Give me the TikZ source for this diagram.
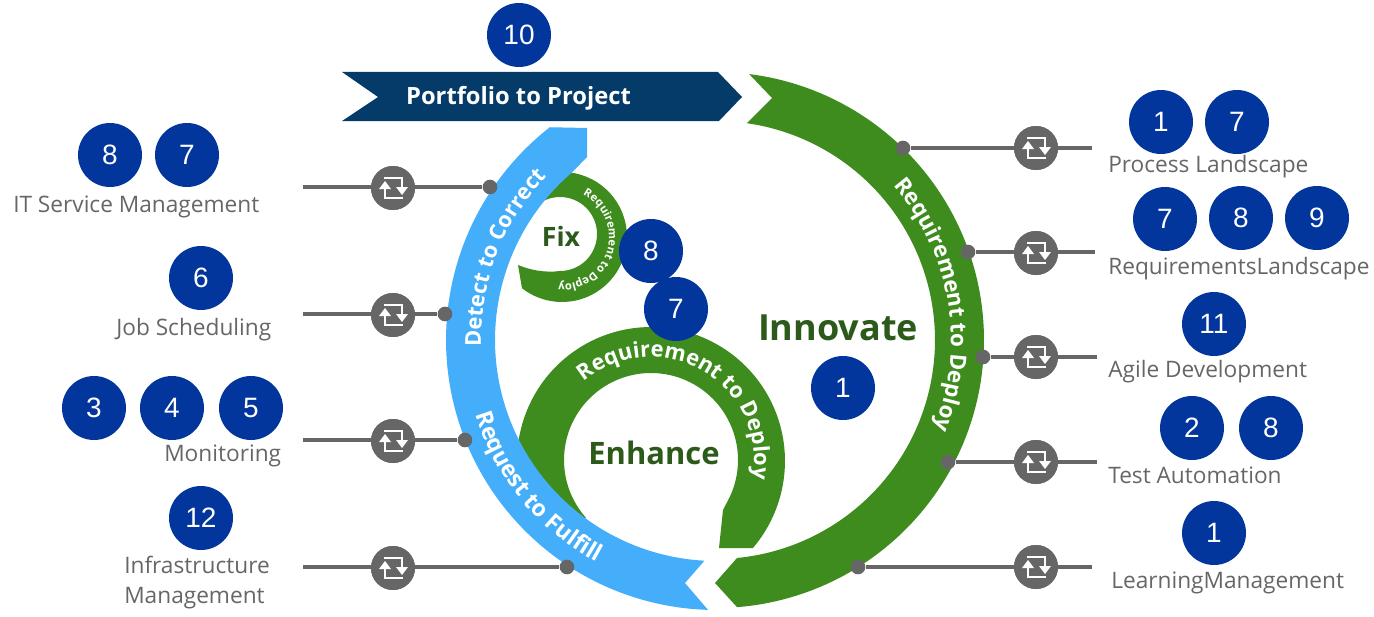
\documentclass[tikz,border=0pt]{standalone}
\usepackage{fontspec}
\setmainfont{Open Sans}
\newfontfamily\numfont{Liberation Sans}
\usetikzlibrary{decorations.text}
\definecolor{gr}{HTML}{3F8C1E}
\definecolor{bl}{HTML}{45AEFB}
\definecolor{nv}{HTML}{053B68}
\definecolor{bd}{HTML}{02369C}
\definecolor{cg}{HTML}{666666}
\definecolor{dg}{HTML}{2C5A1B}
\newcommand{\fz}[1]{\fontsize{#1}{#1}\selectfont}
\tikzset{
 x=0.75pt,y=-0.75pt,
 badge/.style={circle,fill=bd,minimum size=48pt,inner sep=0pt,text=white,font=\numfont\fz{21}},
 lab/.style={text=cg,font=\fz{17},anchor=base west,inner sep=0pt},
 head/.style={text=dg,font=\bfseries\fz{#1},inner sep=0pt},
 conn/.style={cg,line width=3pt},
 dotn/.style={circle,fill=cg,minimum size=11pt,inner sep=0pt},
 icon/.style={circle,fill=cg,minimum size=33pt,inner sep=0pt},
 bandtext/.style 2 args={decorate,decoration={text along path,text align=center,text={|\bfseries\color{white}\fz{#1}|#2}}},
}
\newcommand{\conector}[6]{% name, free x, dot x, line y, icon x, icon y
 \coordinate (#1free) at (#2,#4);
 \node[dotn] (#1dot) at (#3,#4) {};
 \node[icon] (#1icon) at (#5,#6) {};
 \draw[conn] (#1free) -- (#1dot);
 \node[icon] at (#1icon) {};
 \begin{scope}[shift={(#1icon)}]
  \draw[white,line width=2.2pt,line join=miter] (-9,-10) -- (9,-10) -- (9,0);
  \fill[white] (3,-1) -- (15,-1) -- (9,7) -- cycle;
  \draw[white,line width=2.2pt,line join=miter] (10,10) -- (-8,10) -- (-8,0);
  \fill[white] (-14,1) -- (-2,1) -- (-8,-7) -- cycle;
 \end{scope}}
\begin{document}
\begin{tikzpicture}
\useasboundingbox (0,0) rectangle (1374,617);
% Fix ring
\fill[gr] plot[domain=115:-128,samples=60] ({562+65*cos(\x)},{237-65*sin(\x)})
 -- (518,265) .. controls (530,270) and (545,273) .. (560,271)
 -- plot[domain=-90:125,samples=50] ({560+37*cos(\x)},{234-37*sin(\x)}) -- cycle;
% Enhance
\fill[gr] plot[domain=-40.5:205,samples=90] ({651+134*cos(\x)},{461-134*sin(\x)})
 -- plot[domain=222:-25,samples=90] ({651+87*cos(\x)},{460-87*sin(\x)})
 -- (723,510) -- (719,548) -- cycle;
% Blue
\fill[bl] plot[domain=128:268.3,samples=90] ({716+270*cos(\x)},{340-270*sin(\x)})
 -- (685,583)
 -- plot[domain=267:130.4,samples=90] ({716+221*cos(\x)},{340-221*sin(\x)})
 -- (587,157) -- (587,128) -- cycle;
% Big green
\fill[gr] plot[domain=82.9:-85.5,samples=120] ({716+268*cos(\x)},{340-268*sin(\x)})
 -- (715,583)
 -- plot[domain=-84.5:81.9,samples=120] ({716+219*cos(\x)},{340-219*sin(\x)})
 -- (772,98) -- cycle;
% Banner
\fill[nv] (342,72) -- (718,72) -- (742,97) -- (719,121) -- (342,121) -- (378,97) -- cycle;
\node[text=white,font=\bfseries\fz{17.8},inner sep=0pt] (pp) at (518.5,98) {Portfolio to Project};
% Curved texts
\path[bandtext={16.8}{Requirement to Deploy}] plot[domain=43:-24,samples=60] ({716+235*cos(\x)},{340-235*sin(\x)});
\path[bandtext={16.4}{Requirement to Deploy}] plot[domain=130:-10,samples=80] ({651+103*cos(\x)},{460-103*sin(\x)});
\path[bandtext={16.4}{Detect to Correct}] plot[domain=182:135.5,samples=50] ({716+235*cos(\x)},{340-235*sin(\x)});
\path[bandtext={17.4}{Request to Fulfill}] plot[domain=195.5:243.5,samples=50] ({716+252*cos(\x)},{340-252*sin(\x)});
\path[bandtext={8.4}{Requirement to Deploy}] plot[domain=72:-103,samples=60] ({562+47*cos(\x)},{237-47*sin(\x)});
% Headings
\node[head=20] (fix) at (561,236) {Fix};
\node[head=23.2] (enh) at (654,453) {Enhance};
\node[head=27] (inn) at (838,328) {Innovate};
% Connectors
\conector{a}{303}{490}{187}{393}{188}
\conector{b}{303}{445}{314}{393}{315}
\conector{c}{303}{465}{440}{393}{441}
\conector{d}{303}{567}{567}{393}{568}
\conector{e}{1092}{903}{148}{1036}{148}
\conector{f}{1095}{968}{252}{1036}{253}
\conector{g}{1097}{983}{357}{1036}{357}
\conector{h}{1097}{948}{462}{1036}{462}
\conector{i}{1092}{858}{567}{1036}{567}
% Labels
\node[lab] (l1) at (13,212) {IT Service Management};
\node[lab] (l2) at (116,335) {Job Scheduling};
\node[lab] (l3) at (164,461) {Monitoring};
\node[lab] (l4) at (124,573) {Infrastructure};
\node[lab] (l5) at (124,603) {Management};
\node[lab] (r1) at (1108,172) {Process Landscape};
\node[lab] (r2) at (1108,274) {RequirementsLandscape};
\node[lab] (r3) at (1108,377) {Agile Development};
\node[lab] (r4) at (1108,483) {Test Automation};
\node[lab] (r5) at (1111,588) {LearningManagement};
% Badges
\foreach \n/\px/\py/\t in {b1/519/35/10,b2/110/155/8,b3/187/155/7,b4/201/278/6,b5/94/408/3,b6/172/408/4,b7/251/408/5,b8/201/518/12,b9/1161/122/1,b10/1237/122/7,b11/1165/219/7,b12/1241/218/8,b13/1317/218/9,b14/1214/324/11,b15/1192/428/2,b16/1271/428/8,b17/1214/533/1,b18/651/251/8,b19/676/309/7,b20/843/388/1}
 \node[badge] (\n) at (\px,\py) {\t};
\end{tikzpicture}
\end{document}
